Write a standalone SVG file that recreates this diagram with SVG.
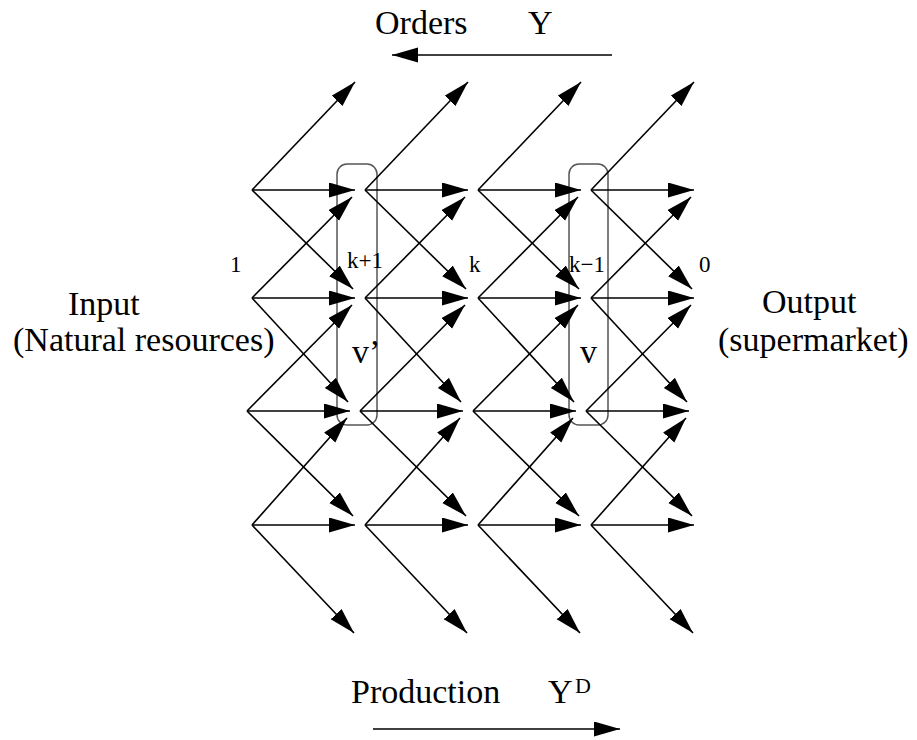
<svg xmlns="http://www.w3.org/2000/svg" width="917" height="740" viewBox="0 0 917 740">
<style>
.c line{stroke:#000;stroke-width:1.6;marker-end:url(#ah);}
.t{font-family:"Liberation Serif","Times New Roman",serif;fill:#000;}
.big{font-size:34px;}
.sm{font-size:23px;}
.box{fill:none;stroke:#555;stroke-width:1.5;}
</style>
<defs>
<marker id="ah" markerUnits="userSpaceOnUse" markerWidth="27" markerHeight="16" refX="26" refY="7.5" orient="auto">
<path d="M0,0 L26,7.5 L0,15 Z" fill="#000"/>
</marker>
</defs>
<rect width="917" height="740" fill="#fff"/>
<g id="box-vprime"><rect class="box" x="337" y="164" width="40" height="261" rx="10"/></g>
<g id="box-v"><rect class="box" x="569" y="164" width="39" height="261" rx="10"/></g>
<g class="c" id="connectors">
<line x1="252" y1="190" x2="355" y2="190"/><line x1="252" y1="190" x2="355" y2="82"/><line x1="252" y1="190" x2="353" y2="289"/>
<line x1="252" y1="298" x2="355" y2="298"/><line x1="252" y1="298" x2="352" y2="197"/><line x1="252" y1="298" x2="348" y2="402"/>
<line x1="247" y1="411" x2="350" y2="411"/><line x1="247" y1="411" x2="352" y2="305"/><line x1="247" y1="411" x2="353" y2="516"/>
<line x1="252" y1="525" x2="355" y2="525"/><line x1="252" y1="525" x2="347" y2="418"/><line x1="252" y1="525" x2="354" y2="633"/>

<line x1="365" y1="190" x2="468" y2="190"/><line x1="365" y1="190" x2="468" y2="82"/><line x1="365" y1="190" x2="466" y2="289"/>
<line x1="365" y1="298" x2="468" y2="298"/><line x1="365" y1="298" x2="465" y2="197"/><line x1="365" y1="298" x2="461" y2="402"/>
<line x1="360" y1="411" x2="463" y2="411"/><line x1="360" y1="411" x2="465" y2="305"/><line x1="360" y1="411" x2="466" y2="516"/>
<line x1="365" y1="525" x2="468" y2="525"/><line x1="365" y1="525" x2="460" y2="418"/><line x1="365" y1="525" x2="467" y2="633"/>

<line x1="478" y1="190" x2="581" y2="190"/><line x1="478" y1="190" x2="581" y2="82"/><line x1="478" y1="190" x2="579" y2="289"/>
<line x1="478" y1="298" x2="581" y2="298"/><line x1="478" y1="298" x2="578" y2="197"/><line x1="478" y1="298" x2="574" y2="402"/>
<line x1="473" y1="411" x2="576" y2="411"/><line x1="473" y1="411" x2="578" y2="305"/><line x1="473" y1="411" x2="579" y2="516"/>
<line x1="478" y1="525" x2="581" y2="525"/><line x1="478" y1="525" x2="573" y2="418"/><line x1="478" y1="525" x2="580" y2="633"/>

<line x1="591" y1="190" x2="694" y2="190"/><line x1="591" y1="190" x2="694" y2="82"/><line x1="591" y1="190" x2="692" y2="289"/>
<line x1="591" y1="298" x2="694" y2="298"/><line x1="591" y1="298" x2="691" y2="197"/><line x1="591" y1="298" x2="687" y2="402"/>
<line x1="586" y1="411" x2="689" y2="411"/><line x1="586" y1="411" x2="691" y2="305"/><line x1="586" y1="411" x2="692" y2="516"/>
<line x1="591" y1="525" x2="694" y2="525"/><line x1="591" y1="525" x2="686" y2="418"/><line x1="591" y1="525" x2="693" y2="633"/>

<line x1="612" y1="55" x2="392" y2="55"/>
<line x1="373" y1="729" x2="620" y2="729"/>
</g>
<g id="labels">
<text class="t big" x="375" y="34">Orders</text>
<text class="t big" x="528" y="34">Y</text>
<text class="t big" x="68" y="315">Input</text>
<text class="t big" x="13" y="351">(Natural resources)</text>
<text class="t big" x="762" y="313">Output</text>
<text class="t big" x="718" y="351">(supermarket)</text>
<text class="t sm" x="230" y="272">1</text>
<text class="t sm" x="347" y="268">k+1</text>
<text class="t sm" x="469" y="272">k</text>
<text class="t sm" x="569" y="272">k−1</text>
<text class="t sm" x="699" y="272">0</text>
<text class="t big" x="352" y="363">v’</text>
<text class="t big" x="580" y="363">v</text>
<text class="t big" x="351" y="703">Production</text>
<text class="t big" x="548" y="703">Y</text>
<text class="t" x="575" y="693" font-size="22">D</text>
</g>
</svg>
